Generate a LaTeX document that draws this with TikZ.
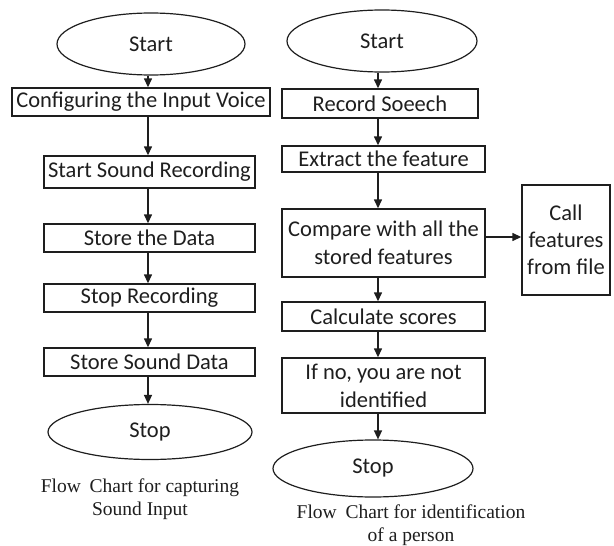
\documentclass[tikz,border=0pt]{standalone}
\usepackage{fontspec}
\setmainfont{Carlito}
\newfontfamily\capfont{Liberation Serif}
\usetikzlibrary{arrows.meta,shapes.geometric}
\definecolor{ink}{HTML}{1E1E1E}
\begin{document}
\begin{tikzpicture}[x=1pt,y=-1pt,
  every node/.style={inner sep=0pt,text=ink},
  boxnode/.style={draw=ink,line width=1.4pt,rectangle,align=center,
    font=\fontsize{22.5}{28}\selectfont},
  termnode/.style={draw=ink,line width=1.2pt,ellipse,
    font=\fontsize{22.5}{28}\selectfont},
  captext/.style={align=center,font=\capfont\fontsize{19.5}{23}\selectfont},
  arr/.style={draw=ink,line width=1.4pt,-{Triangle[width=8pt,length=9pt]}}]
\useasboundingbox (0,0) rectangle (614,546);

% column of the sound capture chart
\coordinate (lx) at (148,0);
\node[termnode,minimum width=188pt,minimum height=62pt] (lstart) at (151,44) {Start};
\node[boxnode,minimum width=258pt,minimum height=28pt] (conf) at (141,102) {Configuring the Input Voice};
\node[boxnode,minimum width=211pt,minimum height=32pt] (ssr) at (149.5,172) {Start Sound Recording};
\node[boxnode,minimum width=211pt,minimum height=28pt] (store) at (149.5,238) {Store the Data};
\node[boxnode,minimum width=211pt,minimum height=28pt] (stoprec) at (149.5,298) {Stop Recording};
\node[boxnode,minimum width=211pt,minimum height=28pt] (ssd) at (149.5,362) {Store Sound Data};
\node[termnode,minimum width=204pt,minimum height=55pt] (lstop) at (150,432) {Stop};
\node[captext] (lcap) at (140,499) {Flow\hspace{0.2em} Chart for capturing\\Sound Input};

\draw[arr] (lx |- lstart.south) -- (lx |- conf.north);
\draw[arr] (lx |- conf.south) -- (lx |- ssr.north);
\draw[arr] (lx |- ssr.south) -- (lx |- store.north);
\draw[arr] (lx |- store.south) -- (lx |- stoprec.north);
\draw[arr] (lx |- stoprec.south) -- (lx |- ssd.north);
\draw[arr] (lx |- ssd.south) -- (lx |- lstop.north);

% column of the identification chart
\coordinate (rx) at (378,0);
\node[termnode,minimum width=190pt,minimum height=62pt] (rstart) at (382,41) {Start};
\node[boxnode,minimum width=196pt,minimum height=29pt] (rec) at (380,103.5) {Record Soeech};
\node[boxnode,minimum width=203pt,minimum height=26pt] (ext) at (383.5,159) {Extract the feature};
\node[boxnode,minimum width=203pt,minimum height=68pt] (cmp) at (383.5,243) {Compare with all the\\stored features};
\node[boxnode,minimum width=88pt,minimum height=110pt,font=\fontsize{22.5}{27}\selectfont] (call) at (566,240) {Call\\features\\from file};
\node[boxnode,minimum width=203pt,minimum height=29pt] (calc) at (383.5,316.5) {Calculate scores};
\node[boxnode,minimum width=203pt,minimum height=55pt] (ifno) at (383.5,385.5) {If no, you are not\\identified};
\node[termnode,minimum width=200pt,minimum height=57pt] (rstop) at (373,468.5) {Stop};
\node[captext] (rcap) at (411,525) {Flow\hspace{0.2em} Chart for identification\\of a person};

\draw[arr] (rx |- rstart.south) -- (rx |- rec.north);
\draw[arr] (rx |- rec.south) -- (rx |- ext.north);
\draw[arr] (rx |- ext.south) -- (rx |- cmp.north);
\draw[arr] (rx |- cmp.south) -- (rx |- calc.north);
\draw[arr] (rx |- calc.south) -- (rx |- ifno.north);
\draw[arr] (rx |- ifno.south) -- (rx |- rstop.north);
\coordinate (cy) at (0,237);
\draw[arr] (cmp.east |- cy) -- (call.west |- cy);
\end{tikzpicture}
\end{document}
